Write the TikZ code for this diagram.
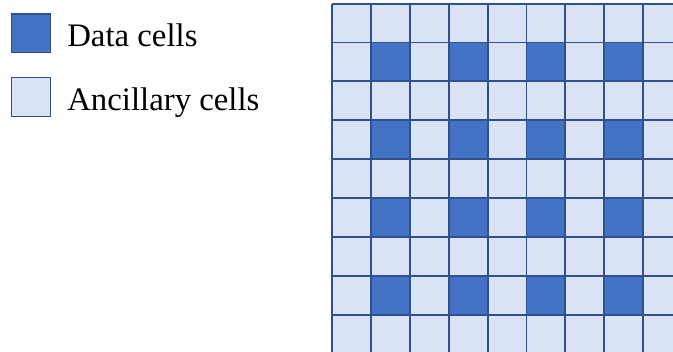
\documentclass[tikz,border=0pt]{standalone}
\usepackage{fontspec}
\setmainfont{Liberation Serif}
\usepackage{tikz}
\usetikzlibrary{positioning}
\definecolor{datablue}{HTML}{4472C4}
\definecolor{ancblue}{HTML}{DAE3F3}
\definecolor{edgeblue}{HTML}{2F528F}
\tikzset{
  keybox/.style={draw=edgeblue, line width=0.9pt, minimum size=29pt, inner sep=0pt},
  keytext/.style={font=\fontsize{24.6}{28}\selectfont, inner sep=0pt, anchor=base west},
  gridline/.style={draw=edgeblue, line width=1.4pt}
}
\begin{document}
\begin{tikzpicture}[x=0.75pt, y=-0.75pt]
        \def\c{38.9}
        \def\xo{332}
        \def\yo{3.6}
        % Page
        \useasboundingbox (0,0) rectangle (673,351);
        \clip (0,0) rectangle (673,351);
        % Legend
        \node[keybox, fill=datablue] (datakey) at (31,33.3) {};
        \node[keybox, fill=ancblue] (anckey) at (31,97) {};
        \node[keytext] (datatext) at (67,46) {Data cells};
        \node[keytext] (anctext) at (67,110) {Ancillary cells};
        % Draw the cells
        \fill[ancblue] (\xo,\yo) rectangle (\xo+9*\c,\yo+9*\c);
        \foreach \i in {1,3,5,7}
          \foreach \j in {1,3,5,7}
            \fill[datablue] (\xo+\i*\c,\yo+\j*\c) rectangle (\xo+\i*\c+\c,\yo+\j*\c+\c);
        % Draw the grid
        \foreach \k in {0,...,9} {
          \draw[gridline] (\xo+\k*\c,\yo) -- (\xo+\k*\c,\yo+9*\c);
          \draw[gridline] (\xo,\yo+\k*\c) -- (\xo+9*\c,\yo+\k*\c);
        }
      \end{tikzpicture}
\end{document}
